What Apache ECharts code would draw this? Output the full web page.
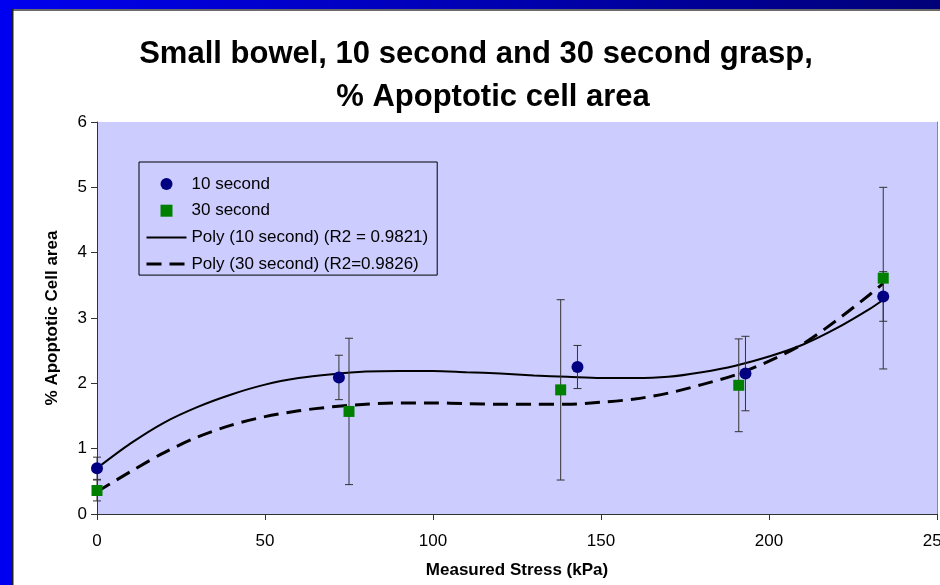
<!DOCTYPE html>
<html><head><meta charset="utf-8">
<script src="https://cdn.jsdelivr.net/npm/echarts@6/dist/echarts.min.js"></script>
<style>html,body{margin:0;padding:0;background:#fff}#c{width:940px;height:585px}</style>
</head><body><div id="c"></div>
<script>
// ---- data ----
const titleLine1 = 'Small bowel, 10 second and 30 second grasp,';
const titleLine2 = '% Apoptotic cell area';
const xAxisName = 'Measured Stress (kPa)';
const yAxisName = '% Apoptotic Cell area';
const seriesNames = ['10 second', '30 second', 'Poly (10 second) (R2 = 0.9821)', 'Poly (30 second) (R2=0.9826)'];

const xMin = 0, xMax = 250, xStep = 50;
const yMin = 0, yMax = 6, yStep = 1;

const stress10 = [0, 72, 143, 193, 234];
const apop10   = [0.70, 2.09, 2.25, 2.15, 3.33];
const err10    = [0.17, 0.34, 0.33, 0.57, 0.38];

const stress30 = [0, 75, 138, 191, 234];
const apop30   = [0.36, 1.57, 1.90, 1.97, 3.61];
const err30    = [0.16, 1.12, 1.38, 0.71, 1.39];

const trendX   = [0, 10, 20, 30, 40, 50, 60, 70, 80, 90, 100, 110, 120, 130, 140, 150, 160, 170, 180, 190, 200, 210, 220, 230, 234];
const poly10   = [0.70, 1.08, 1.40, 1.64, 1.83, 1.98, 2.08, 2.14, 2.18, 2.19, 2.19, 2.17, 2.15, 2.12, 2.10, 2.08, 2.08, 2.10, 2.17, 2.27, 2.41, 2.59, 2.84, 3.14, 3.28];
const poly30   = [0.34, 0.65, 0.94, 1.18, 1.36, 1.49, 1.58, 1.64, 1.68, 1.70, 1.70, 1.69, 1.68, 1.68, 1.68, 1.71, 1.76, 1.85, 1.98, 2.13, 2.34, 2.60, 2.96, 3.36, 3.53];

// ---- build ----
const pts = (xs, ys) => xs.map((x, i) => [x, ys[i]]);
const errData = (xs, ys, es) => xs.map((x, i) => [x, ys[i] - es[i], ys[i] + es[i]]);

function errRender(params, api) {
  const x = api.value(0);
  const lo = api.coord([x, api.value(1)]);
  const hi = api.coord([x, api.value(2)]);
  const hw = 4;
  const st = { stroke: '#333333', lineWidth: 1 };
  return { type: 'group', children: [
    { type: 'line', shape: { x1: hi[0], y1: hi[1], x2: lo[0], y2: lo[1] }, style: st },
    { type: 'line', shape: { x1: hi[0] - hw, y1: hi[1], x2: hi[0] + hw, y2: hi[1] }, style: st },
    { type: 'line', shape: { x1: lo[0] - hw, y1: lo[1], x2: lo[0] + hw, y2: lo[1] }, style: st }
  ]};
}

const font = 'Liberation Sans';
const chart = echarts.init(document.getElementById('c'), null, { renderer: 'canvas' });
const squarePath = 'path://M0 0H10V10H0Z';
const dash = [15, 8];

chart.setOption({
  backgroundColor: '#ffffff',
  animation: false,
  title: [
    { text: titleLine1, left: 471, top: 34, textAlign: 'center',
      textStyle: { fontFamily: font, fontWeight: 'bold', fontSize: 31, color: '#000' } },
    { text: titleLine2, left: 488, top: 77, textAlign: 'center',
      textStyle: { fontFamily: font, fontWeight: 'bold', fontSize: 31, color: '#000' } }
  ],
  graphic: [
    { type: 'rect', left: 0, top: 0, shape: { width: 940, height: 9 }, z: 100,
      style: { fill: new echarts.graphic.LinearGradient(0, 0, 1, 0, [{ offset: 0, color: '#0000F0' }, { offset: 1, color: '#000078' }]) } },
    { type: 'rect', left: 0, top: 0, shape: { width: 12, height: 585 }, z: 101, style: { fill: '#0000F0' } },
    { type: 'rect', left: 12, top: 9, shape: { width: 928, height: 2 }, z: 100, style: { fill: '#6a6a6a' } },
    { type: 'rect', left: 12, top: 9, shape: { width: 1.5, height: 576 }, z: 100, style: { fill: '#202020' } }
  ],
  grid: { left: 97, right: 3, top: 122, bottom: 71, containLabel: false, outerBoundsMode: 'none',
    show: true, backgroundColor: '#CCCCFF', borderWidth: 0 },
  legend: {
    orient: 'vertical', left: 139, top: 162,
    padding: [13.5, 9, 2.5, 6], itemGap: 9.7, itemWidth: 40, itemHeight: 12,
    borderColor: '#000', borderWidth: 1,
    textStyle: { fontFamily: font, fontSize: 17, color: '#000' },
    data: [
      { name: seriesNames[0] },
      { name: seriesNames[1] },
      { name: seriesNames[2], itemStyle: { opacity: 0 }, lineStyle: { color: '#000', width: 2, type: 'solid', opacity: 1 } },
      { name: seriesNames[3], itemStyle: { opacity: 0 }, lineStyle: { color: '#000', width: 3, type: dash, opacity: 1 } }
    ]
  },
  xAxis: {
    type: 'value', min: xMin, max: xMax, interval: xStep,
    name: xAxisName, nameLocation: 'middle', nameGap: 48,
    nameTextStyle: { fontFamily: font, fontWeight: 'bold', fontSize: 17, color: '#000' },
    axisLine: { lineStyle: { color: '#333', width: 1 } },
    axisTick: { show: true, length: 6, inside: false, lineStyle: { color: '#333' } },
    axisLabel: { margin: 19, fontFamily: font, fontSize: 17, color: '#000', showMaxLabel: true },
    splitLine: { show: false }
  },
  yAxis: [{
    type: 'value', min: yMin, max: yMax, interval: yStep,
    name: yAxisName, nameLocation: 'middle', nameGap: 36, nameRotate: 90,
    nameTextStyle: { fontFamily: font, fontWeight: 'bold', fontSize: 17, color: '#000' },
    axisLine: { show: true, lineStyle: { color: '#333', width: 1 } },
    axisTick: { show: true, length: 6, inside: false, lineStyle: { color: '#333' } },
    axisLabel: { margin: 10, fontFamily: font, fontSize: 17, color: '#000' },
    splitLine: { show: false }
  }, {
    type: 'value', min: yMin, max: yMax, interval: yStep, position: 'right',
    axisLine: { show: true, lineStyle: { color: '#8a8a8a', width: 1 } },
    axisTick: { show: false }, axisLabel: { show: false }, splitLine: { show: false }
  }],
  series: [
    { name: seriesNames[2], type: 'line', data: pts(trendX, poly10), smooth: 0.3, symbol: 'none',
      lineStyle: { color: '#000', width: 2 }, itemStyle: { color: '#000' }, z: 2 },
    { name: seriesNames[3], type: 'line', data: pts(trendX, poly30), smooth: 0.3, symbol: 'none',
      lineStyle: { color: '#000', width: 3, type: dash }, itemStyle: { color: '#000' }, z: 2 },
    { name: 'err10', type: 'custom', renderItem: errRender, data: errData(stress10, apop10, err10),
      encode: { x: 0, y: [1, 2] }, z: 3, silent: true },
    { name: 'err30', type: 'custom', renderItem: errRender, data: errData(stress30, apop30, err30),
      encode: { x: 0, y: [1, 2] }, z: 3, silent: true },
    { name: seriesNames[0], type: 'scatter', data: pts(stress10, apop10), symbol: 'circle', symbolSize: 12,
      itemStyle: { color: '#000080', opacity: 1 }, z: 4 },
    { name: seriesNames[1], type: 'scatter', data: pts(stress30, apop30), symbol: squarePath, symbolSize: 11,
      symbolKeepAspect: true, itemStyle: { color: '#008000', opacity: 1 }, z: 4 }
  ]
});
</script></body></html>
